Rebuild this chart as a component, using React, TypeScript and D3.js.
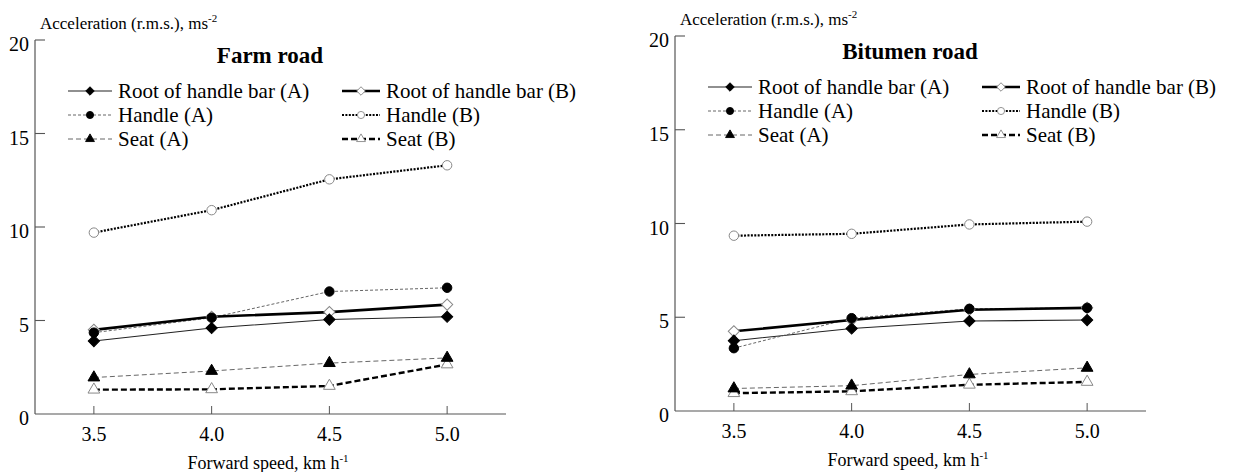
import React, { useEffect, useRef } from "react";
import * as d3 from "d3";

// forward speed, km/h
const speeds = [3.5, 4.0, 4.5, 5.0];
const yTicks = [0, 5, 10, 15, 20];

const seriesNames = [
  "Root of handle bar (A)",
  "Handle (A)",
  "Seat (A)",
  "Root of handle bar (B)",
  "Handle (B)",
  "Seat (B)",
];

// Farm road, acceleration r.m.s. (m/s2)
const farmRootA = [3.9, 4.6, 5.05, 5.2];
const farmHandleA = [4.35, 5.15, 6.55, 6.75];
const farmSeatA = [1.95, 2.3, 2.72, 3.0];
const farmRootB = [4.5, 5.2, 5.45, 5.85];
const farmHandleB = [9.7, 10.9, 12.55, 13.3];
const farmSeatB = [1.3, 1.32, 1.5, 2.65];

// Bitumen road
const bitRootA = [3.75, 4.4, 4.8, 4.85];
const bitHandleA = [3.35, 4.95, 5.45, 5.5];
const bitSeatA = [1.2, 1.35, 1.95, 2.3];
const bitRootB = [4.25, 4.85, 5.4, 5.5];
const bitHandleB = [9.35, 9.45, 9.95, 10.1];
const bitSeatB = [0.95, 1.05, 1.4, 1.55];

const FONT = '"Liberation Serif", "DejaVu Serif", serif';

// line/marker look for each series, same order as seriesNames
const looks = [
  { w: 1.1, dash: null, col: "#222", mark: "diamond", filled: true },
  { w: 0.9, dash: "3,2", col: "#555", mark: "circle", filled: true },
  { w: 0.9, dash: "5,3", col: "#555", mark: "triangle", filled: true },
  { w: 2.6, dash: null, col: "#000", mark: "diamond", filled: false },
  { w: 2.2, dash: "2,1.4", col: "#000", mark: "circle", filled: false },
  { w: 2.4, dash: "6,3", col: "#000", mark: "triangle", filled: false },
];

const panels = [
  {
    title: "Farm road",
    series: [farmRootA, farmHandleA, farmSeatA, farmRootB, farmHandleB, farmSeatB],
    x0: 35, y0: 414, yTop: 40, labelY: 29,
  },
  {
    title: "Bitumen road",
    series: [bitRootA, bitHandleA, bitSeatA, bitRootB, bitHandleB, bitSeatB],
    x0: 675, y0: 411, yTop: 36, labelY: 25,
  },
];

function markerPath(kind, size) {
  if (kind === "diamond") return d3.symbol(d3.symbolSquare, size * 0.9)();
  if (kind === "circle") return d3.symbol(d3.symbolCircle, size)();
  return d3.symbol(d3.symbolTriangle, size * 0.85)();
}

const App = () => {
  const svgRef = useRef();

  useEffect(() => {
    const svg = d3.select(svgRef.current);
    svg.selectAll("*").remove();

    panels.forEach((p) => {
      const x = d3.scaleLinear().domain([3.25, 5.25]).range([p.x0, p.x0 + 471]);
      const y = d3.scaleLinear().domain([0, 20]).range([p.y0, p.yTop]);
      const g = svg.append("g").style("font-family", FONT);

      // axes
      g.append("line")
        .attr("x1", p.x0).attr("x2", p.x0)
        .attr("y1", p.yTop).attr("y2", p.y0)
        .attr("stroke", "#555").attr("stroke-width", 1.2);
      g.append("line")
        .attr("x1", p.x0).attr("x2", p.x0 + 471)
        .attr("y1", p.y0).attr("y2", p.y0)
        .attr("stroke", "#555").attr("stroke-width", 1.2);

      g.selectAll("line.yt")
        .data(yTicks.filter((t) => t > 0))
        .join("line")
        .attr("x1", p.x0).attr("x2", p.x0 + 10)
        .attr("y1", (d) => y(d)).attr("y2", (d) => y(d))
        .attr("stroke", "#555").attr("stroke-width", 1.1);

      g.selectAll("text.yl")
        .data(yTicks)
        .join("text")
        .attr("x", p.x0 - 6)
        .attr("y", (d) => y(d) + 11)
        .attr("text-anchor", "end")
        .attr("font-size", 20)
        .text((d) => d);

      g.selectAll("line.xt")
        .data(speeds)
        .join("line")
        .attr("x1", (d) => x(d)).attr("x2", (d) => x(d))
        .attr("y1", p.y0).attr("y2", p.y0 - 8)
        .attr("stroke", "#555").attr("stroke-width", 1);

      g.selectAll("text.xl")
        .data(speeds)
        .join("text")
        .attr("x", (d) => x(d))
        .attr("y", p.y0 + 27)
        .attr("text-anchor", "middle")
        .attr("font-size", 20)
        .text((d) => d.toFixed(1));

      // axis titles
      const yt = g.append("text")
        .attr("x", p.x0 + 5).attr("y", p.labelY)
        .attr("font-size", 17);
      yt.append("tspan").text("Acceleration (r.m.s.), ms");
      yt.append("tspan").attr("dy", -7).attr("font-size", 11).text("-2");

      const xt = g.append("text")
        .attr("x", p.x0 + 233).attr("y", p.y0 + 55)
        .attr("text-anchor", "middle")
        .attr("font-size", 18);
      xt.append("tspan").text("Forward speed, km h");
      xt.append("tspan").attr("dy", -7).attr("font-size", 11).text("-1");

      g.append("text")
        .attr("x", p.x0 + 235).attr("y", p.yTop + 23)
        .attr("text-anchor", "middle")
        .attr("font-size", 23)
        .attr("font-weight", "bold")
        .text(p.title);

      const line = d3.line()
        .x((d, i) => x(speeds[i]))
        .y((d) => y(d));

      // lines
      p.series.forEach((vals, si) => {
        const lk = looks[si];
        g.append("path")
          .attr("d", line(vals))
          .attr("fill", "none")
          .attr("stroke", lk.col)
          .attr("stroke-width", lk.w)
          .attr("stroke-dasharray", lk.dash);
      });

      // markers: open ones first so filled ones sit on top
      [3, 4, 5, 0, 1, 2].forEach((si) => {
        const lk = looks[si];
        g.selectAll(null)
          .data(p.series[si])
          .join("path")
          .attr("d", markerPath(lk.mark, 70))
          .attr("transform", (d, i) =>
            `translate(${x(speeds[i])},${y(d)})` + (lk.mark === "diamond" ? " rotate(45)" : ""))
          .attr("fill", lk.filled ? "#000" : "#fff")
          .attr("stroke", lk.filled ? "#000" : "#888")
          .attr("stroke-width", 1);
      });

      // legend
      seriesNames.forEach((name, si) => {
        const lk = looks[si];
        const col = si < 3 ? 0 : 1;
        const row = si % 3;
        const lx = col === 0 ? p.x0 + 33 : p.x0 + 307;
        const lw = col === 0 ? 44 : 38;
        const cy = p.yTop + 51 + row * 24;
        g.append("line")
          .attr("x1", lx).attr("x2", lx + lw)
          .attr("y1", cy).attr("y2", cy)
          .attr("stroke", lk.col)
          .attr("stroke-width", lk.w)
          .attr("stroke-dasharray", lk.dash);
        g.append("path")
          .attr("d", markerPath(lk.mark, 40))
          .attr("transform", `translate(${lx + lw / 2},${cy})` + (lk.mark === "diamond" ? " rotate(45)" : ""))
          .attr("fill", lk.filled ? "#000" : "#fff")
          .attr("stroke", lk.filled ? "#000" : "#888")
          .attr("stroke-width", 0.9);
        g.append("text")
          .attr("x", lx + lw + 6)
          .attr("y", cy + 7)
          .attr("font-size", 21)
          .text(name);
      });
    });
  }, []);

  return (
    <svg
      ref={svgRef}
      width={1236}
      height={472}
      style={{ position: "absolute", left: 0, top: 0, background: "#fff" }}
    />
  );
};

export default App;
